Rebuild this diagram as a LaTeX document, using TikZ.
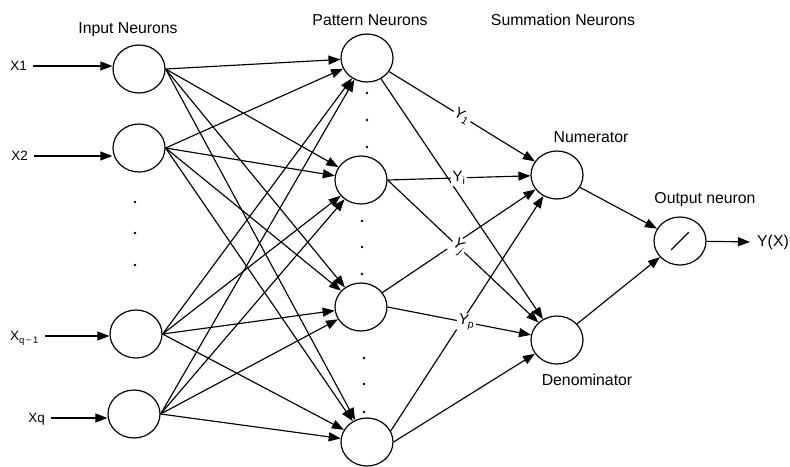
\documentclass[tikz,border=0pt]{standalone}
\usepackage{fontspec}
\setmainfont{Liberation Sans}
\usetikzlibrary{shapes.geometric,arrows.meta}
\begin{document}
\begin{tikzpicture}[x=1pt,y=-1pt,
  neuron/.style={draw, ellipse, minimum width=52pt, minimum height=48pt, inner sep=0pt, line width=1.2pt},
  arr/.style={-{Triangle[length=12pt,width=9pt]}, line width=1.15pt},
  hdr/.style={font=\fontsize{15.8}{19}\selectfont, inner sep=0pt},
  xlbl/.style={font=\fontsize{13.5}{16}\selectfont, inner sep=0pt, text height=9.7pt, text depth=0pt, anchor=east},
  ylbl/.style={font=\fontsize{15}{18}\selectfont, fill=white, inner sep=1.5pt},
  dotn/.style={circle, fill, inner sep=0pt, minimum size=2.6pt}
]
\useasboundingbox (0,0) rectangle (790,466);

% headers
\node[hdr] (hIn)  at (128,30) {Input Neurons};
\node[hdr] (hPat) at (370,20) {Pattern Neurons};
\node[hdr] (hSum) at (563,20) {Summation Neurons};
\node[hdr] (hNum) at (591,137) {Numerator};
\node[hdr] (hDen) at (587,380) {Denominator};
\node[hdr] (hOut) at (705,200) {Output neuron};

% input neurons
\node[neuron] (I1) at (139,69) {};
\node[neuron] (I2) at (139,148) {};
\node[neuron] (I3) at (136,334) {};
\node[neuron] (I4) at (134,414) {};

% pattern neurons
\node[neuron] (P1) at (367,58) {};
\node[neuron] (P2) at (361,180) {};
\node[neuron] (P3) at (361,307) {};
\node[neuron] (P4) at (367,442) {};

% summation and output
\node[neuron] (Num) at (557,175) {};
\node[neuron] (Den) at (557,340) {};
\node[neuron] (Out) at (680,241) {};
\draw[line width=1.1pt, shorten >=13pt, shorten <=13pt] (Out.225) -- (Out.45);

% input labels
\node[xlbl] (X1) at (27,66) {X1};
\node[xlbl] (X2) at (28,156) {X2};
\node[xlbl] (X3) at (39,336) {X\textsubscript{q\,−\,1}};
\node[xlbl] (X4) at (45,418) {Xq};
\node[hdr, anchor=west] (YX) at (757,242) {Y(X)};

\draw[arr, shorten <=6pt] (X1.east) -- (X1.east -| I1.west);
\draw[arr, shorten <=6pt] (X2.east) -- (X2.east -| I2.west);
\draw[arr, shorten <=6pt] (X3.east) -- (X3.east -| I3.west);
\draw[arr, shorten <=6pt] (X4.east) -- (X4.east -| I4.west);

% dots
\node[dotn] (a1) at (135,202) {};
\node[dotn] (a2) at (135,233) {};
\node[dotn] (a3) at (135,265) {};
\node[dotn] (b1) at (367,93) {};
\node[dotn] (b2) at (367,120) {};
\node[dotn] (b3) at (367,147) {};
\node[dotn] (c1) at (362,221) {};
\node[dotn] (c2) at (362,247) {};
\node[dotn] (c3) at (362,274) {};
\node[dotn] (e1) at (364,358) {};
\node[dotn] (e2) at (364,384) {};
\node[dotn] (e3) at (364,412) {};

% input -> pattern
\foreach \i in {I1,I2,I3,I4}{
  \foreach \p in {P1,P2,P3,P4}{
    \draw[arr] (\i.east) -- (\p);
  }
}

% pattern -> summation
\draw[arr] (P1) -- (Num);
\draw[arr] (P1) -- (Den);
\draw[arr] (P2.east) -- (Num);
\draw[arr] (P2.east) -- (Den);
\draw[arr] (P3) -- (Num);
\draw[arr] (P3.east) -- (Den);
\draw[arr] (P4.25) -- (Num);
\draw[arr] (P4.east) -- (Den);

% summation -> output
\draw[arr] (Num) -- (Out);
\draw[arr] (Den) -- (Out);
\draw[arr, shorten >=7pt] (Out) -- (YX.west);

% weight labels on top
\path (P1) -- (Num) node[ylbl, sloped, pos=0.5] (y1) {Y\textsubscript{1}};
\path (P2.east) -- (Num) node[ylbl, pos=0.5] (yi) {Y\textsubscript{i}};
\path (P2.east) -- (Den) node[ylbl, sloped, pos=0.47] (yj) {Y\textsubscript{j}};
\path (P3.east) -- (Den) node[ylbl, sloped, pos=0.55] (yp) {Y\textsubscript{p}};
\end{tikzpicture}
\end{document}
